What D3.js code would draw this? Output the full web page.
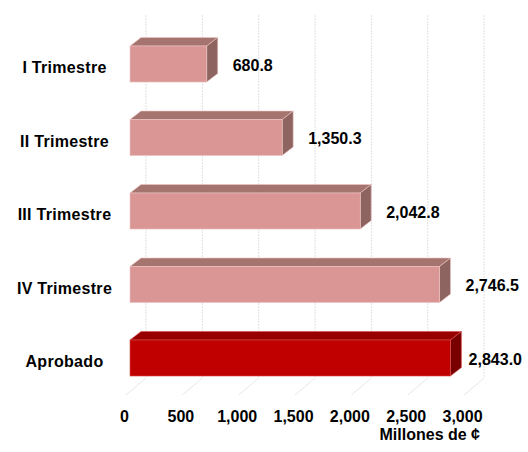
<!DOCTYPE html>
<html>
<head>
<meta charset="utf-8">
<script src="https://cdn.jsdelivr.net/npm/d3@7"></script>
<style>
  body { margin: 0; background: #fff; }
  text { font-family: "Liberation Sans", Arial, sans-serif; font-weight: bold; fill: #000; }
</style>
</head>
<body>
<div id="chart-area"></div>
<script>
// data
var categories = ["I Trimestre", "II Trimestre", "III Trimestre", "IV Trimestre", "Aprobado"];
var values = [680.8, 1350.3, 2042.8, 2746.5, 2843.0];
var tickValues = [0, 500, 1000, 1500, 2000, 2500, 3000];
var axisTitle = "Millones de ¢";

var canvasWidth = 528;
var canvasHeight = 452;

var svg = d3.select("#chart-area")
    .append("svg")
        .attr("width", canvasWidth)
        .attr("height", canvasHeight);

// bar depth and wall depth
var depthX = 11, depthY = -8.5;
var wallTop = 15, wallBottom = 378;
var floorDX = -20, floorDY = 17;

// scales: front plane of bars, back wall, floor front edge (tick labels)
var x = d3.scaleLinear().domain([0, 3000]).range([130, 468.1]);
var xWall = d3.scaleLinear().domain([0, 3000]).range([146, 484.1]);
var xAxisScale = d3.scaleLinear().domain([0, 3000]).range([124, 462]);

var y = d3.scaleBand()
    .domain(categories)
    .range([27.26, 394.76])
    .paddingInner(0.51)
    .paddingOuter(0.255);

// back wall gridlines
svg.append("g").selectAll("line")
    .data(tickValues)
    .enter().append("line")
        .attr("x1", d => xWall(d))
        .attr("x2", d => xWall(d))
        .attr("y1", wallTop)
        .attr("y2", wallBottom)
        .attr("stroke", "#e0e0e0")
        .attr("stroke-width", 1)
        .attr("stroke-dasharray", "2,1");

// floor lines
svg.append("g").selectAll("line")
    .data(tickValues)
    .enter().append("line")
        .attr("x1", d => xWall(d))
        .attr("x2", d => xWall(d) + floorDX)
        .attr("y1", wallBottom)
        .attr("y2", wallBottom + floorDY)
        .attr("stroke", "#e6e6e6")
        .attr("stroke-width", 1);

var colors = function(i) {
    return i === categories.length - 1
        ? { front: "#C00000", top: "#980000", side: "#780000", edge: "#d85050" }
        : { front: "#D99694", top: "#A6746F", side: "#8D6460", edge: "#ecc4c2" };
};

var bars = svg.append("g").selectAll("g")
    .data(values)
    .enter().append("g");

// top face
bars.append("polygon")
    .attr("points", (d, i) => {
        var x0 = x(0), x1 = x(d), t = y(categories[i]);
        return [[x0, t], [x1, t], [x1 + depthX, t + depthY], [x0 + depthX, t + depthY]].join(" ");
    })
    .attr("fill", (d, i) => colors(i).top)
    .attr("stroke", (d, i) => colors(i).edge)
    .attr("stroke-width", 0.6);

// side face
bars.append("polygon")
    .attr("points", (d, i) => {
        var x1 = x(d), t = y(categories[i]), b = t + y.bandwidth();
        return [[x1, t], [x1 + depthX, t + depthY], [x1 + depthX, b + depthY], [x1, b]].join(" ");
    })
    .attr("fill", (d, i) => colors(i).side)
    .attr("stroke", (d, i) => colors(i).edge)
    .attr("stroke-width", 0.6);

// front face
bars.append("rect")
    .attr("x", x(0))
    .attr("y", (d, i) => y(categories[i]))
    .attr("width", d => x(d) - x(0))
    .attr("height", y.bandwidth())
    .attr("fill", (d, i) => colors(i).front)
    .attr("stroke", (d, i) => colors(i).edge)
    .attr("stroke-width", 0.6);

// value labels
var fmt = d3.format(",.1f");
bars.append("text")
    .attr("font-size", "16px")
    .attr("y", (d, i) => y(categories[i]) + y.bandwidth() / 2 + 6.5)
    .text(d => fmt(d))
    .attr("x", function(d) {
        var w = this.getComputedTextLength();
        return Math.min(x(d) + depthX + 15, 522 - w);
    });

// category labels
svg.append("g").selectAll("text")
    .data(categories)
    .enter().append("text")
        .attr("x", 64.5)
        .attr("y", d => y(d) + y.bandwidth() / 2 + 9)
        .attr("text-anchor", "middle")
        .attr("font-size", "16px")
        .attr("letter-spacing", "0.3px")
        .text(d => d);

// x axis tick labels
var xAxisCall = d3.axisBottom(xAxisScale)
    .tickValues(tickValues)
    .tickSize(0)
    .tickFormat(d3.format(","));
var xAxis = svg.append("g")
    .attr("transform", "translate(0,406)")
    .call(xAxisCall);
xAxis.select(".domain").remove();
xAxis.selectAll("text")
    .attr("font-size", "16px")
    .attr("font-family", null)
    .attr("fill", "#000")
    .attr("dy", null)
    .attr("y", 16);

// axis title
svg.append("text")
    .attr("x", 480)
    .attr("y", 440)
    .attr("text-anchor", "end")
    .attr("font-size", "16px")
    .text(axisTitle);
</script>
</body>
</html>
